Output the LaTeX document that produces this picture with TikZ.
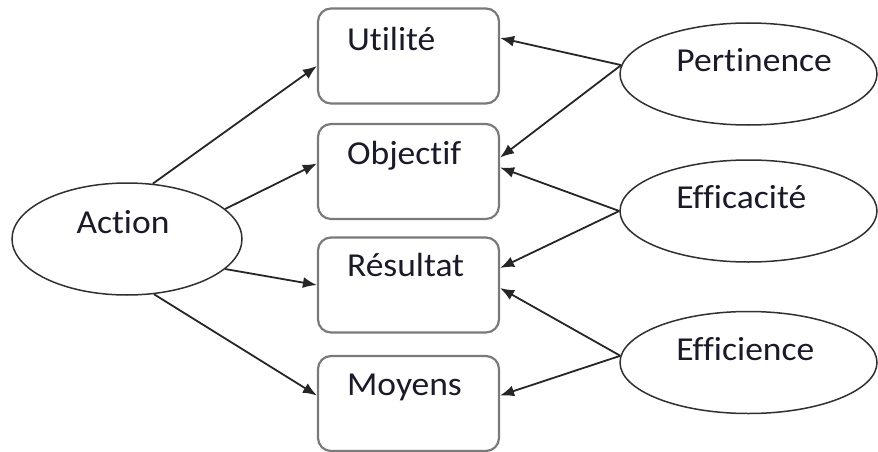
\documentclass[tikz,border=0pt]{standalone}
\usepackage{fontspec}
\setmainfont[Ligatures={NoCommon},FakeStretch=1.06]{Carlito}
\usetikzlibrary{arrows.meta,shapes.geometric}
\definecolor{boxgrey}{HTML}{7A7A7A}
\definecolor{ellgrey}{HTML}{303030}
\definecolor{txt}{HTML}{1A1A2A}
\tikzset{
  boxnode/.style={draw=boxgrey, line width=2.2pt, rounded corners=13pt, minimum width=181pt, minimum height=95pt, inner sep=0pt, fill=white},
  ellnode/.style={ellipse, draw=ellgrey, line width=1.5pt, inner sep=0pt, fill=white},
  lbl/.style={text=txt, font=\fontsize{33.5}{36}\selectfont, inner sep=0pt},
  conn/.style={draw=black!85, line width=1.8pt, -{Latex[length=14pt,width=11pt]}}
}
\begin{document}
\begin{tikzpicture}[x=1pt,y=-1pt]
\useasboundingbox (0,0) rectangle (878,452);
% boxes
\node[boxnode] (u) at (408.5,56) {};
\node[boxnode] (o) at (408.5,171.5) {};
\node[boxnode] (r) at (408.5,285) {};
\node[boxnode] (m) at (408.5,403.5) {};
\node[lbl, anchor=base west] (ut) at ([xshift=30pt,yshift=-43pt]u.north west) {Utilité};
\node[lbl, anchor=base west] (ot) at ([xshift=30pt,yshift=-42pt]o.north west) {Objectif};
\node[lbl, anchor=base west] (rt) at ([xshift=30pt,yshift=-40pt]r.north west) {Résultat};
\node[lbl, anchor=base west] (mt) at ([xshift=30pt,yshift=-41pt]m.north west) {Moyens};
% ellipses
\node[ellnode, minimum width=230pt, minimum height=112pt] (a) at (127,239) {};
\node[lbl, anchor=base] (at) at ([xshift=-4pt,yshift=6pt]a.center) {Action};
\node[ellnode, minimum width=257pt, minimum height=102pt] (p) at (748.5,74) {};
\node[ellnode, minimum width=257pt, minimum height=102pt] (e) at (748.5,211) {};
\node[ellnode, minimum width=257pt, minimum height=102pt] (f) at (748.5,362.5) {};
\node[lbl, anchor=base west] (pt) at ([xshift=57pt,yshift=2pt]p.west) {Pertinence};
\node[lbl, anchor=base west] (et) at ([xshift=57pt,yshift=3pt]e.west) {Efficacité};
\node[lbl, anchor=base west] (ft) at ([xshift=57pt,yshift=2.5pt]f.west) {Efficience};
% connectors from Action
\draw[conn] (a.65) -- ([yshift=-10pt]u.west);
\draw[conn] (a.17) -- ([yshift=8pt]o.west);
\draw[conn] (a.-17) -- (r.west);
\draw[conn] (a.-64) -- ([yshift=8pt]m.west);
% connectors from right ellipses
\draw[conn] (p.176) -- ([yshift=18pt]u.east);
\draw[conn] (p.176) -- ([yshift=14pt]o.east);
\draw[conn] (e.180) -- ([yshift=4pt]o.east);
\draw[conn] (e.180) -- ([yshift=17pt]r.east);
\draw[conn] (f.177) -- ([yshift=-3pt]r.east);
\draw[conn] (f.177) -- ([yshift=8pt]m.east);
\end{tikzpicture}
\end{document}
